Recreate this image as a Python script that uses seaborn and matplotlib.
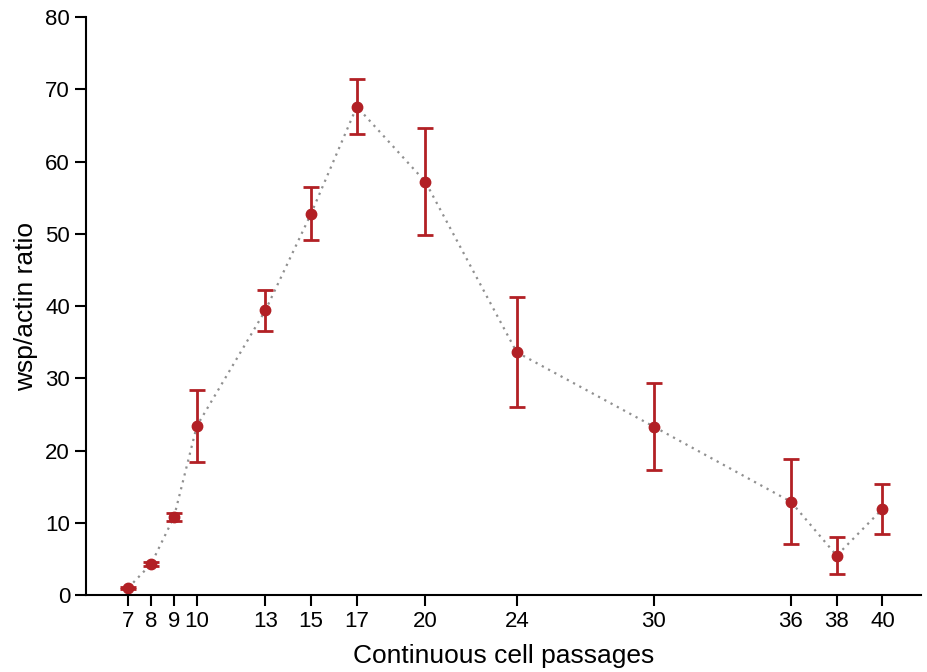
import pandas as pd
import seaborn as sns
import matplotlib.pyplot as plt

# values
passages = [7, 8, 9, 10, 13, 15, 17, 20, 24, 30, 36, 38, 40]
ratio = [1.0, 4.3, 10.8, 23.4, 39.4, 52.8, 67.6, 57.2, 33.6, 23.3, 12.9, 5.45, 11.9]
err = [0.15, 0.3, 0.6, 5.0, 2.8, 3.7, 3.8, 7.4, 7.6, 6.0, 5.9, 2.55, 3.5]

df = pd.DataFrame({'passage': passages, 'ratio': ratio, 'err': err})

sns.set_style('ticks')
plt.rcParams['font.family'] = ['Liberation Sans', 'DejaVu Sans']

fig = plt.figure(figsize=(9.28, 6.72), dpi=100)
ax = fig.add_axes([0.0927, 0.1146, 0.9, 0.86])

red = '#b22025'

# dotted connecting line
sns.lineplot(data=df, x='passage', y='ratio', ax=ax, color='#909090',
             linestyle=(0, (1, 2.2)), linewidth=1.6, zorder=1)

# points with error bars
ax.errorbar(df['passage'], df['ratio'], yerr=df['err'], fmt='o', color=red,
            markersize=7.5, elinewidth=2, capsize=6, capthick=2, zorder=2)

ax.set_xlim(5.15, 41.7)
ax.set_ylim(0, 80)
ax.set_xticks(passages)
ax.set_xticklabels([str(p) for p in passages])
ax.set_yticks(range(0, 81, 10))

ax.tick_params(axis='both', labelsize=16, length=8, width=1.5, direction='out',
               color='black', labelcolor='black')
for side in ['left', 'bottom']:
    ax.spines[side].set_linewidth(1.5)
    ax.spines[side].set_color('black')
sns.despine(ax=ax)

ax.set_xlabel('Continuous cell passages', fontsize=19, labelpad=9, color='black')
ax.set_ylabel('wsp/actin ratio', fontsize=19, labelpad=5, color='black')

fig.savefig('out.png', dpi=100)
